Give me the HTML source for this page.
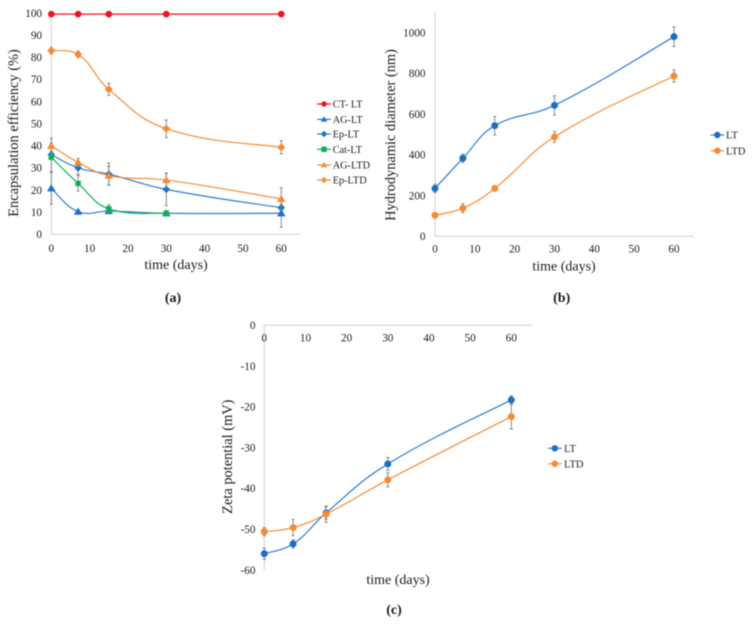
<!DOCTYPE html>
<html lang="en">
<head>
<meta charset="utf-8">
<title>Encapsulation efficiency, hydrodynamic diameter and zeta potential over time</title>
<style>
html,body{margin:0;padding:0;background:#fff;width:753px;height:624px;overflow:hidden}
svg{display:block;filter:blur(0.4px)}
text{font-family:"Liberation Serif",serif;fill:#1c1c1c}
</style>
</head>
<body>
<svg id="fig" xmlns="http://www.w3.org/2000/svg" width="753" height="624" viewBox="0 0 753 624"></svg>
<script>
// Shared category values
const days = [0, 7, 15, 30, 60];

// Panel (a) values
const aTicksX = [0, 10, 20, 30, 40, 50, 60];
const aTicksY = [0, 10, 20, 30, 40, 50, 60, 70, 80, 90, 100];
const ctLt = [99.5, 99.5, 99.5, 99.5, 99.5];
const ctLtErr = [0, 0, 0, 0, 0];
const agLt = [20.8, 10.2, 10.5, 9.5, 9.5];
const agLtErr = [7.2, 1, 1, 1, 6.3];
const epLt = [36, 30, 27.2, 20.3, 12];
const epLtErr = [1.5, 3, 5, 7.3, 1.5];
const catLt = [34.8, 23, 11.5, 9.5];
const catLtErr = [6.5, 3.5, 1.8, 1];
const agLtd = [40, 32.5, 26.5, 24.5, 16];
const agLtdErr = [3.5, 1.8, 4.2, 3.2, 5];
const epLtd = [83, 81.3, 65.5, 47.7, 39.3];
const epLtdErr = [1.5, 1.5, 2.7, 4, 3];

// Panel (b) values
const bTicksX = [0, 10, 20, 30, 40, 50, 60];
const bTicksY = [0, 200, 400, 600, 800, 1000];
const bLt = [235, 383, 543, 643, 980];
const bLtErr = [20, 20, 45, 47, 48];
const bLtd = [103, 138, 235, 488, 787];
const bLtdErr = [10, 22, 10, 27, 30];

// Panel (c) values
const cTicksX = [0, 10, 20, 30, 40, 50, 60];
const cTicksY = [0, -10, -20, -30, -40, -50, -60];
const cLt = [-56, -53.6, -46, -34, -18.3];
const cLtErr = [1.4, 1, 1.5, 1.6, 1];
const cLtd = [-50.6, -49.6, -46.3, -37.9, -22.4];
const cLtdErr = [1, 2, 2, 1.7, 3];

const RED = '#f4101c', BLUE = '#2f7cd0', DBLUE = '#1a6fc4', GREEN = '#0cb04f', ORANGE = '#f58b35';
const NS = 'http://www.w3.org/2000/svg';
const fig = document.getElementById('fig');

function el(parent, tag, attrs) {
  const e = document.createElementNS(NS, tag);
  for (const k in attrs) e.setAttribute(k, attrs[k]);
  parent.appendChild(e);
  return e;
}
function label(parent, str, attrs) {
  const t = el(parent, 'text', attrs);
  t.textContent = str;
  return t;
}
// Smooth path in the manner of spreadsheet "smoothed line" series
function smoothPath(pts) {
  let d = 'M' + pts[0][0] + ' ' + pts[0][1];
  const k = 0.42;
  const dist = (a, b) => Math.hypot(a[0] - b[0], a[1] - b[1]) || 1e-6;
  for (let i = 0; i < pts.length - 1; i++) {
    const p0 = pts[Math.max(i - 1, 0)], p1 = pts[i], p2 = pts[i + 1], p3 = pts[Math.min(i + 2, pts.length - 1)];
    const d01 = i === 0 ? 0 : dist(p0, p1), d12 = dist(p1, p2), d23 = i + 2 >= pts.length ? 0 : dist(p2, p3);
    const s1 = k * d12 / (d01 + d12), s2 = k * d12 / (d12 + d23);
    const c1 = [p1[0] + (p2[0] - p0[0]) * s1 * (i === 0 ? 0.5 : 1), p1[1] + (p2[1] - p0[1]) * s1 * (i === 0 ? 0.5 : 1)];
    const last = i + 2 >= pts.length;
    const c2 = [p2[0] - (p3[0] - p1[0]) * s2 * (last ? 0.5 : 1), p2[1] - (p3[1] - p1[1]) * s2 * (last ? 0.5 : 1)];
    d += ' C' + c1[0].toFixed(2) + ' ' + c1[1].toFixed(2) + ' ' + c2[0].toFixed(2) + ' ' + c2[1].toFixed(2) + ' ' + p2[0].toFixed(2) + ' ' + p2[1].toFixed(2);
  }
  return d;
}
function marker(parent, kind, x, y, color, r) {
  if (kind === 'circle') return el(parent, 'circle', {cx: x, cy: y, r: r, fill: color});
  if (kind === 'square') return el(parent, 'rect', {x: x - r, y: y - r, width: 2 * r, height: 2 * r, fill: color});
  if (kind === 'triangle') return el(parent, 'polygon', {points: [x, y - r * 1.15, x + r * 1.2, y + r * 0.85, x - r * 1.2, y + r * 0.85].join(' '), fill: color});
  return el(parent, 'polygon', {points: [x, y - r * 1.2, x + r * 1.2, y, x, y + r * 1.2, x - r * 1.2, y].join(' '), fill: color});
}
function drawSeries(parent, sx, sy, s) {
  const g = el(parent, 'g', {});
  
  
  const pts = s.values.map((v, i) => [sx(days[i]), sy(v)]);
  s.errors.forEach((e, i) => {
    if (!e) return;
    const x = sx(days[i]), y1 = sy(s.values[i] - e), y2 = sy(s.values[i] + e);
    const b = el(g, 'path', {d: 'M' + x + ' ' + y1 + 'V' + y2 + 'M' + (x - 1.6) + ' ' + y1 + 'h3.2M' + (x - 1.6) + ' ' + y2 + 'h3.2', stroke: '#808080', 'stroke-width': 0.9, fill: 'none'});
    
    
  });
  const line = el(g, 'path', {d: smoothPath(pts), fill: 'none', stroke: s.lineColor || s.color, 'stroke-width': 1.2});
  
  
  pts.forEach(p => {
    const m = marker(g, s.kind, p[0], p[1], s.color, s.r);
    
    
  });
}
function drawLegend(parent, items, x0, x1, textX, ys, fontSize, mr) {
  items.forEach((s, i) => {
    const g = el(parent, 'g', {});
    
    
    el(g, 'line', {x1: x0, x2: x1, y1: ys[i], y2: ys[i], stroke: s.lineColor || s.color, 'stroke-width': 1.2});
    marker(g, s.kind, (x0 + x1) / 2, ys[i], s.color, mr);
    label(g, s.name, {x: textX, y: ys[i] + 3.6, 'font-size': fontSize});
  });
}
function panel(cfg) {
  const g = el(fig, 'g', {});
  
  
  const sx = v => cfg.x0 + (v - 0) * cfg.xs;
  const sy = v => cfg.y0 - (v - cfg.yBase) * cfg.ys;
  const yAxis = el(g, 'line', {x1: cfg.x0, x2: cfg.x0, y1: cfg.yTop, y2: cfg.yBot, stroke: '#cfcfcf', 'stroke-width': 1});
  
  
  const xAxis = el(g, 'line', {x1: cfg.x0, x2: sx(65), y1: cfg.xAxisY, y2: cfg.xAxisY, stroke: '#cfcfcf', 'stroke-width': 1});
  
  
  cfg.ticksX.forEach(t => {
    const l = label(g, String(t), {x: sx(t), y: cfg.xTickY, 'font-size': 11.2, 'text-anchor': 'middle'});
    
    
  });
  cfg.ticksY.forEach(t => {
    const l = label(g, String(t), {x: cfg.yTickX, y: sy(t) + 3.8, 'font-size': 11.2, 'text-anchor': 'end'});
    
    
  });
  const xt = label(g, 'time (days)', {x: cfg.xTitle[0], y: cfg.xTitle[1], 'font-size': 14, 'text-anchor': 'middle'});
  
  
  const yt = label(g, cfg.yTitle, {x: 0, y: 0, 'font-size': 14.4, 'text-anchor': 'middle', transform: 'translate(' + cfg.yTitlePos[0] + ' ' + cfg.yTitlePos[1] + ') rotate(-90)'});
  
  
  const cap = label(g, cfg.caption, {x: cfg.captionPos[0], y: cfg.captionPos[1], 'font-size': 14, 'font-weight': 'bold', 'text-anchor': 'middle'});
  
  
  cfg.series.forEach(s => drawSeries(g, sx, sy, s));
  drawLegend(g, cfg.series, cfg.legend.x0, cfg.legend.x1, cfg.legend.textX, cfg.legend.ys, cfg.legend.size, cfg.legend.mr);
}

panel({
  id: 'encapsulation', x0: 51.3, xs: 3.833, y0: 234.3, yBase: 0, ys: 2.213,
  yTop: 13, yBot: 234.3, xAxisY: 234.3, ticksX: aTicksX, ticksY: aTicksY,
  xTickY: 252, yTickX: 42, xTitle: [176, 269], yTitle: 'Encapsulation efficiency (%)', yTitlePos: [18, 133],
  caption: '(a)', captionPos: [173, 302],
  legend: {x0: 317, x1: 331, textX: 332.7, ys: [104, 119.3, 134, 149.3, 165, 180], size: 10.3, mr: 2.7},
  series: [
    {id: 'ct-lt', name: 'CT- LT', values: ctLt, errors: ctLtErr, color: RED, kind: 'circle', r: 3.3},
    {id: 'ag-lt', name: 'AG-LT', values: agLt, errors: agLtErr, color: '#1a72cc', lineColor: BLUE, kind: 'triangle', r: 3.6},
    {id: 'ep-lt', name: 'Ep-LT', values: epLt, errors: epLtErr, color: '#1a72cc', lineColor: BLUE, kind: 'diamond', r: 3.2},
    {id: 'cat-lt', name: 'Cat-LT', values: catLt, errors: catLtErr, color: GREEN, kind: 'square', r: 2.7},
    {id: 'ag-ltd', name: 'AG-LTD', values: agLtd, errors: agLtdErr, color: ORANGE, kind: 'triangle', r: 3.6},
    {id: 'ep-ltd', name: 'Ep-LTD', values: epLtd, errors: epLtdErr, color: ORANGE, kind: 'diamond', r: 3.4}
  ]
});
panel({
  id: 'diameter', x0: 435, xs: 3.983, y0: 236.3, yBase: 0, ys: 0.2037,
  yTop: 12.7, yBot: 236.3, xAxisY: 236.3, ticksX: bTicksX, ticksY: bTicksY,
  xTickY: 252.7, yTickX: 425.5, xTitle: [564, 270.5], yTitle: 'Hydrodynamic diameter (nm)', yTitlePos: [395, 135],
  caption: '(b)', captionPos: [561.7, 302],
  legend: {x0: 710.7, x1: 724, textX: 726, ys: [135, 150.7], size: 10.5, mr: 3.2},
  series: [
    {id: 'lt', name: 'LT', values: bLt, errors: bLtErr, color: DBLUE, lineColor: BLUE, kind: 'circle', r: 3.5},
    {id: 'ltd', name: 'LTD', values: bLtd, errors: bLtdErr, color: ORANGE, kind: 'circle', r: 3.5}
  ]
});
panel({
  id: 'zeta', x0: 264.3, xs: 4.117, y0: 325.3, yBase: 0, ys: 4.078,
  yTop: 325.3, yBot: 570, xAxisY: 325.3, ticksX: cTicksX, ticksY: cTicksY,
  xTickY: 341.7, yTickX: 255.5, xTitle: [398, 584], yTitle: 'Zeta potential (mV)', yTitlePos: [232, 456.7],
  caption: '(c)', captionPos: [394, 614],
  legend: {x0: 548, x1: 561.7, textX: 564, ys: [448.3, 463.7], size: 10.5, mr: 3.2},
  series: [
    {id: 'lt', name: 'LT', values: cLt, errors: cLtErr, color: DBLUE, lineColor: BLUE, kind: 'circle', r: 3.5},
    {id: 'ltd', name: 'LTD', values: cLtd, errors: cLtdErr, color: ORANGE, kind: 'circle', r: 3.5}
  ]
});
</script>
</body>
</html>
